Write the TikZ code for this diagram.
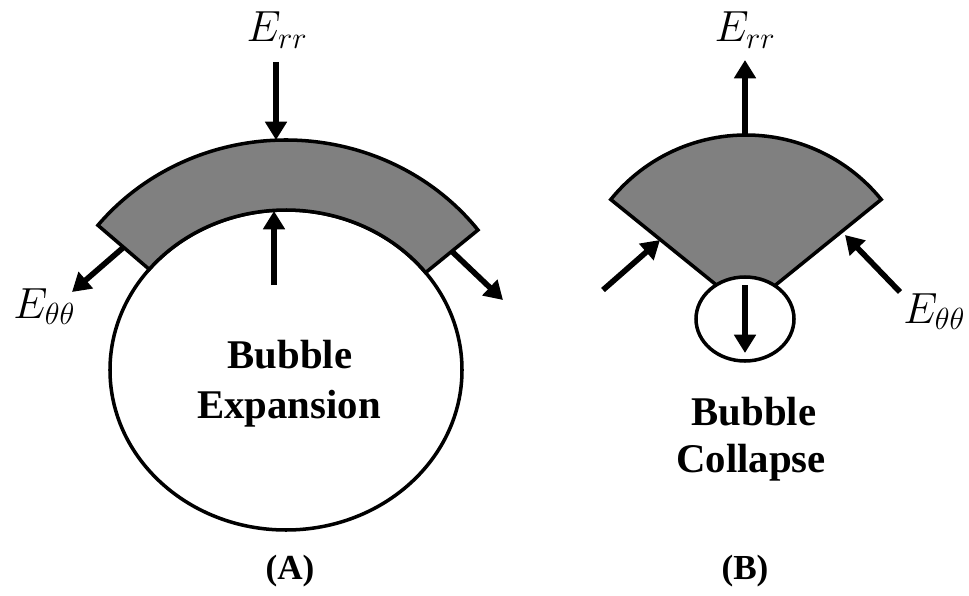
\RequirePackage{fix-cm}
\documentclass[tikz,border=0pt]{standalone}
\usepackage{fontspec}
\setmainfont{Liberation Serif}
\usetikzlibrary{arrows.meta,calc}
\definecolor{shellgray}{RGB}{128,128,128}
\tikzset{
  outline/.style={line width=2.5pt, draw=black, line join=miter},
  force/.style={line width=4pt, -{Triangle[length=13pt,width=15pt]}},
  mathlbl/.style={font=\fontsize{31}{31}\selectfont, inner sep=0pt},
  boldlbl/.style={font=\fontsize{29}{34}\selectfont\bfseries, inner sep=0pt, anchor=base},
  caplbl/.style={font=\fontsize{25}{25}\selectfont\bfseries, inner sep=0pt, anchor=base},
}
\begin{document}
\begin{tikzpicture}[x=0.025cm,y=0.025cm]
\useasboundingbox (0,0) rectangle (969,595);
% ---------------- (A) bubble expansion ----------------
\coordinate (ca) at (286,225);
\draw[outline, fill=white] (ca) ellipse[x radius=176, y radius=160];
\draw[outline, fill=shellgray]
  ($(ca)+(141:242 and 230)$) arc[start angle=141, end angle=37.5, x radius=242, y radius=230]
  -- ($(ca)+(37.5:176 and 160)$) arc[start angle=37.5, end angle=141, x radius=176, y radius=160]
  -- cycle;
\coordinate (aTopS) at (276,533);
\coordinate (aTopE) at (276,455);
\coordinate (aInS) at (274,310);
\coordinate (aInE) at (274,384);
\coordinate (aLS) at ($(ca)+(141:209 and 195)$);
\coordinate (aLE) at (72,303);
\coordinate (aRS) at ($(ca)+(37.5:209 and 195)$);
\coordinate (aRE) at (503,295);
\draw[force] (aTopS) -- (aTopE);
\draw[force] (aInS) -- (aInE);
\draw[force] (aLS) -- (aLE);
\draw[force] (aRS) -- (aRE);
\node[mathlbl, anchor=base] (aErr) at (277,553) {$E_{rr}$};
\node[mathlbl, anchor=base west] (aEtt) at (13,277) {$E_{\theta\theta}$};
\node[boldlbl] (aT1) at (290,227) {Bubble};
\node[boldlbl] (aT2) at (289,177) {Expansion};
\node[caplbl] (aCap) at (290,16) {(A)};
% ---------------- (B) bubble collapse ----------------
\coordinate (cb) at (746,286);
\draw[outline, fill=shellgray] (cb) -- ($(cb)+(141:174)$) arc[start angle=141, end angle=39, radius=174] -- cycle;
\draw[outline, fill=white] (745,276) ellipse[x radius=49, y radius=42];
\coordinate (bTopS) at (745,460);
\coordinate (bTopE) at (745,535);
\coordinate (bInS) at (745,310);
\coordinate (bInE) at (745,242);
\coordinate (bLS) at (603,305);
\coordinate (bLE) at (660,355);
\coordinate (bRS) at (900,303);
\coordinate (bRE) at (845,360);
\draw[force] (bTopS) -- (bTopE);
\draw[force] (bInS) -- (bInE);
\draw[force] (bLS) -- (bLE);
\draw[force] (bRS) -- (bRE);
\node[mathlbl, anchor=base] (bErr) at (745,553) {$E_{rr}$};
\node[mathlbl, anchor=base west] (bEtt) at (903,272) {$E_{\theta\theta}$};
\node[boldlbl] (bT1) at (754,170) {Bubble};
\node[boldlbl] (bT2) at (751,123) {Collapse};
\node[caplbl] (bCap) at (745,16) {(B)};
\end{tikzpicture}
\end{document}
